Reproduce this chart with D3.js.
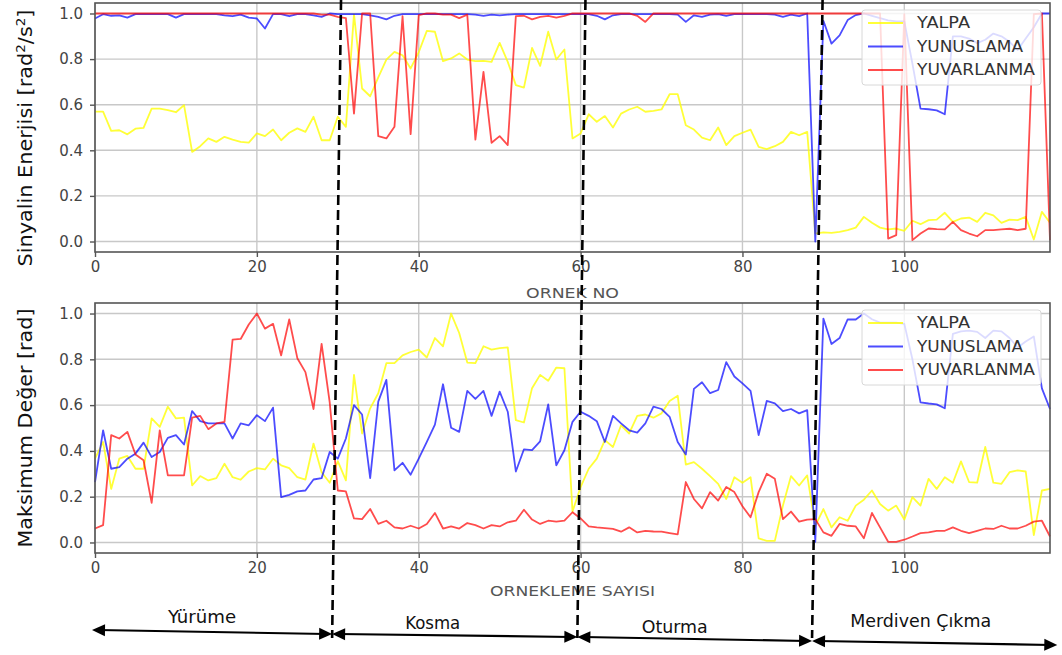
<!DOCTYPE html>
<html><head><meta charset="utf-8">
<script src="https://cdn.jsdelivr.net/npm/d3@7"></script>
<style>
html,body{margin:0;padding:0;background:#fff;}
svg{display:block;}
</style></head>
<body>
<svg id="chart" width="1062" height="655"></svg>
<script>
// ---------------- DATA ----------------
const seriesNames = ["YALPA", "YUNUSLAMA", "YUVARLANMA"];
const xTicks = [0, 20, 40, 60, 80, 100];
const yTicks = [0.0, 0.2, 0.4, 0.6, 0.8, 1.0];
const activities = ["Yürüme", "Kosma", "Oturma", "Merdiven Çıkma"];
const boundaryTop = [30.4, 60.6, 89.9];
const boundaryBottom = [29.3, 59.6, 88.6];

const topYalpa = [
0.57,0.57,0.485,0.488,0.47,0.495,0.498,0.583,0.583,0.576,
0.567,0.598,0.393,0.418,0.452,0.437,0.459,0.447,0.437,0.434,
0.474,0.462,0.491,0.444,0.477,0.496,0.481,0.547,0.444,0.444,
0.547,0.503,0.997,0.671,0.637,0.72,0.798,0.832,0.817,0.759,
0.83,0.924,0.92,0.791,0.803,0.825,0.798,0.791,0.792,0.788,
0.871,0.788,0.686,0.675,0.849,0.77,0.92,0.798,0.842,0.452,
0.474,0.558,0.525,0.55,0.5,0.561,0.579,0.591,0.569,0.573,
0.579,0.646,0.646,0.51,0.491,0.456,0.444,0.5,0.423,0.462,
0.477,0.491,0.415,0.405,0.418,0.437,0.481,0.466,0.481,0.035,
0.04,0.038,0.042,0.05,0.061,0.108,0.082,0.061,0.053,0.057,
0.047,0.091,0.076,0.094,0.096,0.126,0.086,0.101,0.105,0.086,
0.126,0.115,0.082,0.096,0.094,0.108,0.009,0.13,0.082];
const topYunuslama = [
0.978,0.997,0.99,0.992,0.982,0.997,0.997,0.997,0.997,0.997,
0.982,0.997,0.997,0.997,0.997,0.997,0.992,0.988,0.995,0.982,
0.978,0.934,0.997,0.997,0.988,0.997,0.997,0.992,0.985,1.0,
0.997,0.997,0.997,0.997,0.992,0.985,0.974,0.99,0.997,0.997,
0.997,0.997,0.997,0.997,0.997,0.997,0.997,0.995,0.99,0.995,
0.992,0.995,0.997,0.997,0.997,0.997,0.997,0.997,0.997,0.997,
0.997,0.997,0.99,0.974,0.992,0.997,0.997,0.997,0.997,0.997,
0.997,0.997,0.995,0.963,0.992,0.985,0.995,0.997,0.99,0.997,
0.997,0.997,0.997,0.997,0.995,0.985,0.995,0.988,1.0,0.0,
0.968,0.868,0.904,0.971,0.993,1.0,0.99,0.98,0.97,0.965,
0.965,0.78,0.583,0.58,0.575,0.558,0.9,0.9,0.89,0.87,
0.885,0.912,0.9,0.876,0.84,0.89,0.94,1.0,1.0];
const topYuvarlanma = [
1,1,1,1,1,1,1,1,1,1,
1,1,1,1,1,1,1,1,1,1,
1,1,1,1,1,1,1,1,0.995,0.995,
0.985,0.98,0.561,1.0,1.0,0.462,0.452,0.503,0.988,0.471,
0.993,1.0,1.0,0.995,0.995,0.98,0.995,0.447,0.744,0.433,
0.462,0.423,0.988,0.99,0.974,0.985,0.99,0.982,0.99,1.0,
1,1,1,1,1,1,1,0.99,0.963,1,
1,1,1,1,1,1,1,1,1,1,
1,1,1,1,1,1,1,1,1,1,
1,1,1,1,1,1,1,1,0.013,0.028,
0.997,0.006,0.035,0.057,0.054,0.053,0.086,0.05,0.035,0.023,
0.05,0.05,0.053,0.056,0.05,0.056,0.997,1.0,0.006];

const bottomYalpa = [
0.366,0.439,0.234,0.366,0.378,0.322,0.322,0.542,0.505,0.593,
0.542,0.545,0.249,0.29,0.271,0.281,0.344,0.285,0.274,0.31,
0.325,0.319,0.366,0.337,0.325,0.285,0.275,0.432,0.307,0.261,
0.355,0.271,0.732,0.476,0.586,0.652,0.783,0.783,0.817,0.832,
0.842,0.808,0.893,0.857,1.0,0.915,0.786,0.783,0.857,0.842,
0.849,0.852,0.534,0.524,0.674,0.732,0.706,0.764,0.761,0.135,
0.242,0.322,0.366,0.447,0.417,0.512,0.476,0.553,0.559,0.545,
0.564,0.618,0.641,0.34,0.351,0.322,0.29,0.256,0.19,0.285,
0.261,0.285,0.018,0.007,0.007,0.161,0.29,0.249,0.293,0.073,
0.146,0.066,0.11,0.095,0.161,0.187,0.227,0.168,0.139,0.161,
0.1,0.198,0.161,0.278,0.234,0.285,0.261,0.354,0.264,0.261,
0.417,0.261,0.256,0.307,0.315,0.31,0.032,0.227,0.234];
const bottomYunuslama = [
0.264,0.49,0.322,0.329,0.366,0.388,0.436,0.373,0.395,0.457,
0.469,0.428,0.574,0.53,0.52,0.52,0.52,0.454,0.52,0.512,
0.556,0.53,0.589,0.198,0.208,0.223,0.227,0.275,0.281,0.395,
0.366,0.454,0.6,0.559,0.281,0.615,0.71,0.315,0.348,0.296,
0.366,0.439,0.515,0.691,0.501,0.483,0.662,0.627,0.662,0.553,
0.659,0.571,0.31,0.407,0.403,0.442,0.603,0.337,0.403,0.527,
0.571,0.553,0.53,0.439,0.553,0.52,0.49,0.48,0.52,0.593,
0.583,0.549,0.439,0.384,0.671,0.7,0.652,0.666,0.788,0.725,
0.695,0.662,0.469,0.618,0.608,0.574,0.583,0.564,0.578,0.003,
0.978,0.867,0.893,0.974,0.974,1.0,0.975,0.96,0.96,0.96,
0.955,0.8,0.612,0.607,0.603,0.586,0.911,0.922,0.925,0.92,
0.893,0.925,0.922,0.893,0.852,0.878,0.9,0.673,0.583];
const bottomYuvarlanma = [
0.061,0.076,0.469,0.454,0.483,0.384,0.359,0.173,0.49,0.293,
0.293,0.293,0.545,0.553,0.495,0.52,0.527,0.886,0.889,0.952,
1.0,0.934,0.955,0.817,0.974,0.805,0.744,0.583,0.867,0.612,
0.227,0.223,0.105,0.102,0.146,0.081,0.095,0.066,0.061,0.073,
0.061,0.081,0.129,0.061,0.07,0.061,0.085,0.076,0.061,0.076,
0.07,0.088,0.095,0.143,0.1,0.081,0.095,0.091,0.095,0.132,
0.105,0.07,0.066,0.063,0.059,0.047,0.066,0.044,0.051,0.048,
0.047,0.041,0.035,0.264,0.19,0.149,0.22,0.183,0.242,0.22,
0.158,0.11,0.22,0.3,0.278,0.102,0.135,0.091,0.1,0.102,
0.044,0.029,0.081,0.073,0.07,0.018,0.129,0.066,0.003,0.003,
0.012,0.026,0.041,0.044,0.051,0.051,0.066,0.051,0.041,0.051,
0.061,0.059,0.073,0.061,0.061,0.073,0.091,0.095,0.026];

// ---------------- STYLE ----------------
const colors = ["#ffff00", "#0000ff", "#ff0000"];
const lineOpacity = [0.78, 0.7, 0.7];
const tickFont = "DejaVu Sans, sans-serif";
const legendTextLen = [53, 106, 118];

const svg = d3.select("#chart");
svg.append("rect").attr("width", 1062).attr("height", 655).attr("fill", "#fff");

const x = d3.scaleLinear().domain([0, 118]).range([95, 1050]);

function panel(cfg) {
  const y = d3.scaleLinear().domain([-0.046, 1.046]).range([cfg.bottom, cfg.top]);
  const g = svg.append("g");
  g.append("g").selectAll("line").data(yTicks).join("line")
    .attr("x1", x.range()[0]).attr("x2", x.range()[1])
    .attr("y1", d => y(d)).attr("y2", d => y(d))
    .attr("stroke", "#c8c8c8").attr("stroke-width", 1.4);
  g.append("g").selectAll("line").data(xTicks).join("line")
    .attr("x1", d => x(d)).attr("x2", d => x(d))
    .attr("y1", cfg.top).attr("y2", cfg.bottom)
    .attr("stroke", "#c8c8c8").attr("stroke-width", 1.4);
  const line = d3.line().x((d, i) => x(i)).y(d => y(d));
  cfg.series.forEach((s, k) => {
    g.append("path").datum(s).attr("d", line)
      .attr("fill", "none").attr("stroke", colors[k])
      .attr("stroke-opacity", lineOpacity[k])
      .attr("stroke-width", 1.8).attr("stroke-linejoin", "round");
  });
  g.append("rect").attr("x", x.range()[0]).attr("y", cfg.top)
    .attr("width", x.range()[1] - x.range()[0]).attr("height", cfg.bottom - cfg.top)
    .attr("fill", "none").attr("stroke", "#555").attr("stroke-width", 1.6);
  const xa = g.append("g").attr("transform", `translate(0,${cfg.bottom})`)
    .call(d3.axisBottom(x).tickValues(xTicks).tickFormat(d3.format("d")).tickSize(5).tickPadding(4));
  const ya = g.append("g").attr("transform", `translate(${x.range()[0]},0)`)
    .call(d3.axisLeft(y).tickValues(yTicks).tickFormat(d3.format(".1f")).tickSize(5).tickPadding(7));
  [xa, ya].forEach(a => {
    a.select(".domain").remove();
    a.selectAll(".tick line").attr("stroke", "#555").attr("stroke-width", 1.4);
    a.selectAll(".tick text").attr("fill", "#444").style("font-family", tickFont).style("font-size", "15px");
  });
  g.append("text").attr("x", (x.range()[0] + x.range()[1]) / 2).attr("y", cfg.xLabelY)
    .attr("text-anchor", "middle").attr("fill", "#555")
    .attr("textLength", cfg.xLabelLen).attr("lengthAdjust", "spacingAndGlyphs")
    .style("font-family", tickFont).style("font-size", "14px").text(cfg.xLabel);
  const yl = g.append("text").attr("transform", `translate(${cfg.yLabelX},${cfg.yLabelCy}) rotate(-90)`)
    .attr("text-anchor", "middle").attr("fill", "#111")
    .attr("textLength", cfg.yLabelLen).attr("lengthAdjust", "spacingAndGlyphs")
    .style("font-family", tickFont).style("font-size", "20px");
  cfg.yLabel(yl);
  const lg = g.append("g").attr("transform", `translate(862,${cfg.top + 7})`);
  lg.append("rect").attr("width", 179).attr("height", 75).attr("rx", 3)
    .attr("fill", "#fff").attr("fill-opacity", 0.8).attr("stroke", "#d8d8d8");
  seriesNames.forEach((n, k) => {
    const yy = 13 + k * 23.5;
    lg.append("line").attr("x1", 6).attr("x2", 41).attr("y1", yy).attr("y2", yy)
      .attr("stroke", colors[k]).attr("stroke-opacity", lineOpacity[k]).attr("stroke-width", 1.8);
    lg.append("text").attr("x", 55).attr("y", yy).attr("dy", "0.36em")
      .attr("textLength", legendTextLen[k]).attr("lengthAdjust", "spacingAndGlyphs")
      .attr("fill", "#333").style("font-family", tickFont).style("font-size", "15px").text(n);
  });
}

panel({
  top: 3, bottom: 252, series: [topYalpa, topYunuslama, topYuvarlanma],
  xLabel: "ORNEK NO", xLabelY: 298, xLabelLen: 93,
  yLabelX: 32, yLabelCy: 138, yLabelLen: 257,
  yLabel: t => {
    t.append("tspan").text("Sinyalin Enerjisi [rad");
    t.append("tspan").attr("baseline-shift", "super").style("font-size", "13px").text("2");
    t.append("tspan").text("/s");
    t.append("tspan").attr("baseline-shift", "super").style("font-size", "13px").text("2");
    t.append("tspan").text("]");
  }
});
panel({
  top: 303, bottom: 553, series: [bottomYalpa, bottomYunuslama, bottomYuvarlanma],
  xLabel: "ORNEKLEME SAYISI", xLabelY: 596, xLabelLen: 165,
  yLabelX: 32, yLabelCy: 428, yLabelLen: 239,
  yLabel: t => t.text("Maksimum Değer [rad]")
});

// ---------------- ANNOTATIONS ----------------
const ann = svg.append("g");
const yTopDash = 0, yBotDash = 638;
boundaryTop.forEach((b, i) => {
  ann.append("line").attr("x1", x(b)).attr("y1", yTopDash)
    .attr("x2", x(boundaryBottom[i])).attr("y2", yBotDash)
    .attr("stroke", "#000").attr("stroke-width", 2.6).attr("stroke-dasharray", "10,5");
});

const arrowX = [x(-0.37), ...boundaryBottom.map(b => x(b)), x(118.9)];
const arrowY = [630, 634, 637, 641, 645];
function head(px, py, dir, ang) {
  const L = 13, W = 6;
  const ux = Math.cos(ang) * dir, uy = Math.sin(ang) * dir;
  const bx = px - ux * L, by = py - uy * L;
  return `M${px},${py}L${bx - uy * W},${by + ux * W}L${bx + uy * W},${by - ux * W}Z`;
}
for (let i = 0; i < 4; i++) {
  const x1 = arrowX[i], y1 = arrowY[i], x2 = arrowX[i + 1], y2 = arrowY[i + 1];
  const ang = Math.atan2(y2 - y1, x2 - x1);
  ann.append("line").attr("x1", x1 + 6).attr("y1", y1).attr("x2", x2 - 6).attr("y2", y2)
    .attr("stroke", "#000").attr("stroke-width", 2.2);
  ann.append("path").attr("d", head(x1, y1, -1, ang)).attr("fill", "#000");
  ann.append("path").attr("d", head(x2, y2, 1, ang)).attr("fill", "#000");
}
const labelShift = [-10, -22, -20, -14];
const labelDy = [-9, -7, -6, -16];
const labelLen = [68, 55, 66, 141];
activities.forEach((a, i) => {
  const cx = (arrowX[i] + arrowX[i + 1]) / 2 + labelShift[i];
  const cy = (arrowY[i] + arrowY[i + 1]) / 2 + labelDy[i];
  ann.append("text").attr("x", cx).attr("y", cy).attr("text-anchor", "middle")
    .attr("textLength", labelLen[i]).attr("lengthAdjust", "spacingAndGlyphs")
    .style("font-family", "'Liberation Sans Narrow', 'DejaVu Sans Condensed', sans-serif")
    .style("font-size", "18px").attr("fill", "#111").text(a);
});
</script>
</body></html>
